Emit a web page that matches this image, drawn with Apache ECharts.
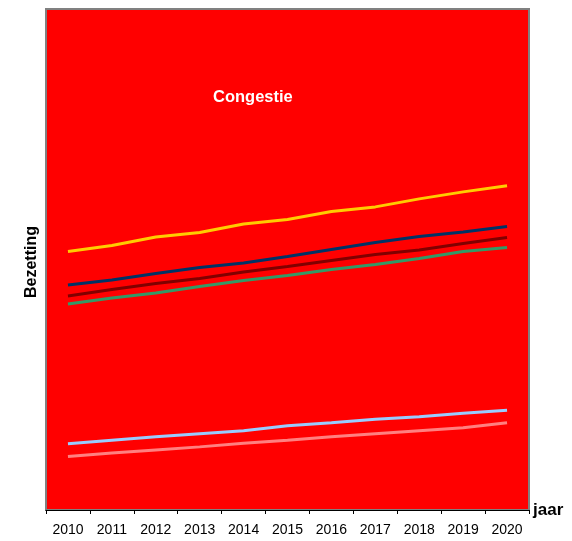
<!DOCTYPE html>
<html>
<head>
<meta charset="utf-8">
<script src="https://cdn.jsdelivr.net/npm/echarts@6/dist/echarts.min.js"></script>
<style>
  html, body { margin: 0; padding: 0; background: #ffffff; }
  #chart { width: 572px; height: 541px; }
</style>
</head>
<body>
<div id="chart"></div>
<script>
// Years on the horizontal axis
const years = ['2010', '2011', '2012', '2013', '2014', '2015', '2016', '2017', '2018', '2019', '2020'];

// Occupancy (Bezetting) per scenario, relative scale 0-100
const seriesYellow   = [51.6, 52.8, 54.5, 55.4, 57.1, 58.0, 59.6, 60.5, 62.1, 63.5, 64.7];
const seriesNavy     = [44.9, 45.9, 47.2, 48.4, 49.3, 50.6, 52.0, 53.4, 54.6, 55.5, 56.6];
const seriesDarkRed  = [42.7, 44.0, 45.2, 46.2, 47.5, 48.6, 49.8, 51.0, 51.9, 53.2, 54.4];
const seriesGreen    = [41.1, 42.3, 43.3, 44.6, 45.8, 46.8, 48.0, 49.0, 50.2, 51.6, 52.4];
const seriesSkyBlue  = [13.2, 13.9, 14.6, 15.2, 15.8, 16.8, 17.4, 18.1, 18.6, 19.3, 19.9];
const seriesPink     = [10.7, 11.4, 12.0, 12.6, 13.3, 13.9, 14.6, 15.2, 15.8, 16.4, 17.4];

const lineDefs = [
  { data: seriesYellow,  color: '#FFCC00' },
  { data: seriesNavy,    color: '#003366' },
  { data: seriesDarkRed, color: '#800000' },
  { data: seriesGreen,   color: '#339966' },
  { data: seriesSkyBlue, color: '#99CCFF' },
  { data: seriesPink,    color: '#FF8080' }
];

const chart = echarts.init(document.getElementById('chart'), null, { renderer: 'canvas' });

chart.setOption({
  animation: false,
  backgroundColor: '#ffffff',
  textStyle: { fontFamily: 'Liberation Sans, Arial, sans-serif' },
  grid: {
    left: 46, top: 9, width: 483, height: 501,
    show: true,
    backgroundColor: '#FF0000',
    borderColor: '#808080',
    borderWidth: 2
  },
  graphic: [{
    type: 'text',
    left: 213, top: 89,
    style: {
      text: 'Congestie',
      fill: '#ffffff',
      font: 'bold 16.5px "Liberation Sans", Arial, sans-serif'
    },
    z: 100
  }],
  xAxis: {
    type: 'category',
    data: years,
    boundaryGap: true,
    name: 'jaar',
    nameLocation: 'end',
    nameGap: 4,
    nameTextStyle: {
      color: '#000000',
      fontWeight: 'bold',
      fontSize: 17,
      verticalAlign: 'middle',
      padding: [6, 0, 0, 0]
    },
    axisLine: { show: true, lineStyle: { color: '#000000', width: 1 } },
    axisTick: { show: true, alignWithLabel: false, length: 4, lineStyle: { color: '#000000' } },
    axisLabel: { color: '#000000', fontSize: 14, margin: 13 },
    splitLine: { show: false }
  },
  yAxis: {
    type: 'value',
    min: 0,
    max: 100,
    name: 'Bezetting',
    nameLocation: 'middle',
    nameRotate: 90,
    nameGap: 6,
    nameTextStyle: { color: '#000000', fontWeight: 'bold', fontSize: 16, padding: [0, 5, 0, 0] },
    axisLine: { show: false },
    axisTick: { show: false },
    axisLabel: { show: false },
    splitLine: { show: false }
  },
  series: lineDefs.map(d => ({
    type: 'line',
    data: d.data,
    showSymbol: false,
    symbol: 'none',
    lineStyle: { color: d.color, width: 3 },
    itemStyle: { color: d.color }
  }))
});
</script>
</body>
</html>
